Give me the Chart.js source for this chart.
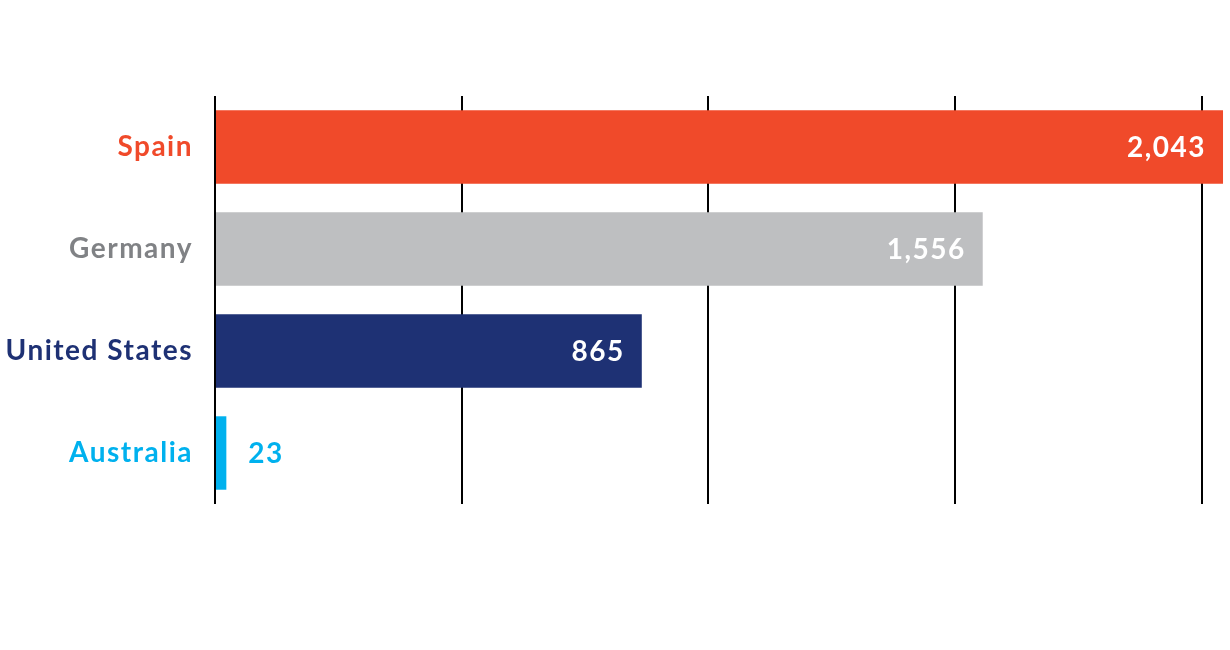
<!DOCTYPE html>
<html>
<head>
<meta charset="utf-8">
<script src="https://cdn.jsdelivr.net/npm/chart.js@4/dist/chart.umd.min.js"></script>
<style>
    body { margin: 0; background: #fff; }
    #box { width: 1230px; height: 650px; }
</style>
</head>
<body>
<div id="box"><canvas id="countryChart" width="1230" height="650"></canvas></div>
<script>
const countries = ['Spain', 'Germany', 'United States', 'Australia'];
const values = [2043, 1556, 865, 23];
const barColors = ['#F04A2A', '#BEBFC1', '#1E3174', '#00B1EE'];
const labelColors = ['#F04A2A', '#808285', '#1E3174', '#00B1EE'];
const gridTicks = [0, 500, 1000, 1500, 2000];

const fontFamily = "Lato, 'Open Sans', sans-serif";

// the font in the original is spaced out a bit
const spacing = {
    id: 'spacing',
    beforeDraw(chart) {
        chart.ctx.letterSpacing = '1.5px';
    },
    afterDraw(chart) {
        chart.ctx.letterSpacing = '0px';
    }
};

// value numbers at the end of each bar
const valueLabels = {
    id: 'valueLabels',
    afterDatasetsDraw(chart) {
        const ctx = chart.ctx;
        const meta = chart.getDatasetMeta(0);
        ctx.save();
        ctx.font = 'bold 28px ' + fontFamily;
        ctx.letterSpacing = '1.5px';
        ctx.textBaseline = 'middle';
        meta.data.forEach((bar, i) => {
            const text = values[i].toLocaleString('en-US');
            if (bar.x - bar.base > 120) {
                ctx.fillStyle = '#ffffff';
                ctx.textAlign = 'right';
                ctx.fillText(text, bar.x - 17, bar.y + 1);
            } else {
                ctx.fillStyle = labelColors[i];
                ctx.textAlign = 'left';
                ctx.fillText(text, bar.x + 22, bar.y + 1);
            }
        });
        ctx.restore();
    }
};

const canvas = document.getElementById('countryChart').getContext('2d');
const countryChart = new Chart(canvas, {
    type: 'bar',
    data: {
        labels: countries,
        datasets: [{
            data: values,
            backgroundColor: barColors,
            borderWidth: 0,
            barPercentage: 0.72,
            categoryPercentage: 1
        }]
    },
    options: {
        indexAxis: 'y',
        responsive: false,
        animation: false,
        layout: {
            padding: { top: 96, bottom: 146, left: 0, right: 6 }
        },
        plugins: {
            legend: { display: false },
            tooltip: { enabled: false }
        },
        scales: {
            x: {
                min: 0,
                max: 2045,
                afterBuildTicks(scale) {
                    scale.ticks = gridTicks.map(v => ({ value: v }));
                },
                ticks: { display: false },
                border: { display: false },
                grid: {
                    drawTicks: false,
                    lineWidth: 2,
                    color: '#000000'
                }
            },
            y: {
                afterFit(scale) {
                    scale.width = 215;
                },
                border: { display: false },
                grid: { display: false, drawTicks: false },
                ticks: {
                    padding: 22,
                    color: (c) => labelColors[c.index],
                    font: { family: fontFamily, size: 28, weight: 'bold' }
                }
            }
        }
    },
    plugins: [spacing, valueLabels]
});
</script>
</body>
</html>
